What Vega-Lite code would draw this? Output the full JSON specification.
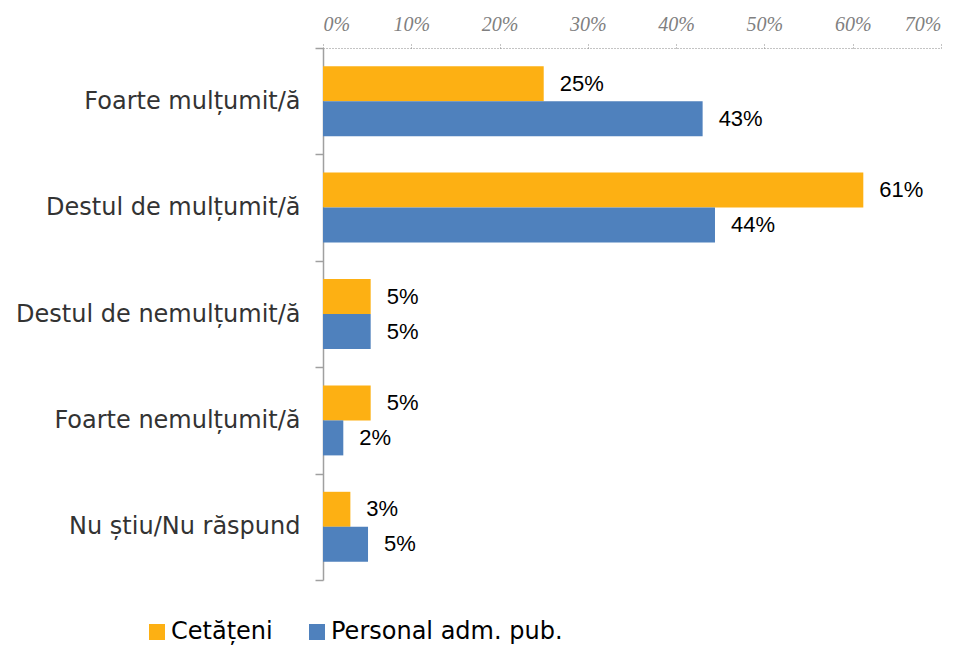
{
  "$schema": "https://vega.github.io/schema/vega-lite/v6.json",
  "width": 618,
  "height": 532,
  "autosize": {"type": "none"},
  "padding": {"left": 323, "top": 48, "right": 26, "bottom": 66},
  "background": "white",
  "config": {"view": {"stroke": null}},
  "data": {
    "values": [
      {"cat": "Foarte mulțumit/ă", "series": "Cetățeni", "value": 0.25},
      {"cat": "Foarte mulțumit/ă", "series": "Personal adm. pub.", "value": 0.43},
      {"cat": "Destul de mulțumit/ă", "series": "Cetățeni", "value": 0.612},
      {"cat": "Destul de mulțumit/ă", "series": "Personal adm. pub.", "value": 0.444},
      {"cat": "Destul de nemulțumit/ă", "series": "Cetățeni", "value": 0.054},
      {"cat": "Destul de nemulțumit/ă", "series": "Personal adm. pub.", "value": 0.054},
      {"cat": "Foarte nemulțumit/ă", "series": "Cetățeni", "value": 0.054},
      {"cat": "Foarte nemulțumit/ă", "series": "Personal adm. pub.", "value": 0.023},
      {"cat": "Nu știu/Nu răspund", "series": "Cetățeni", "value": 0.031},
      {"cat": "Nu știu/Nu răspund", "series": "Personal adm. pub.", "value": 0.051}
    ]
  },
  "encoding": {
    "y": {
      "field": "cat", "type": "nominal", "sort": null, "title": null,
      "scale": {"paddingInner": 0, "paddingOuter": 0},
      "axis": {
        "tickBand": "extent", "domainColor": "#a0a0a0", "domainWidth": 1.5,
        "tickColor": "#a0a0a0", "tickWidth": 1.5, "tickSize": 8, "labelPadding": 15,
        "labelFont": "DejaVu Sans", "labelFontSize": 24, "labelColor": "#333333", "labelLimit": 400
      }
    },
    "yOffset": {
      "field": "series", "type": "nominal", "sort": ["Cetățeni", "Personal adm. pub."],
      "scale": {"paddingInner": 0, "paddingOuter": 0.52}
    },
    "x": {
      "field": "value", "type": "quantitative",
      "scale": {"domain": [0, 0.7], "nice": false},
      "axis": {
        "orient": "top", "format": ".0%", "values": [0, 0.1, 0.2, 0.3, 0.4, 0.5, 0.6, 0.7],
        "title": null, "grid": false,
        "domainDash": [1, 2], "domainColor": "#888888", "tickDash": [1, 2], "tickColor": "#888888", "tickSize": 6,
        "labelFont": "Liberation Serif", "labelFontStyle": "italic", "labelFontSize": 20,
        "labelColor": "#808080", "labelPadding": 8
      }
    }
  },
  "layer": [
    {
      "mark": {"type": "bar"},
      "encoding": {
        "color": {
          "field": "series", "type": "nominal",
          "scale": {"domain": ["Cetățeni", "Personal adm. pub."], "range": ["#FDB013", "#4F81BD"]},
          "legend": {
            "orient": "none", "legendX": -178, "legendY": 572, "direction": "horizontal",
            "title": null, "symbolType": "square", "symbolSize": 256, "symbolStrokeWidth": 0,
            "labelFont": "DejaVu Sans", "labelFontSize": 24, "labelColor": "#000000", "labelLimit": 400,
            "labelOffset": 2, "columnPadding": 32, "padding": 0
          }
        }
      }
    },
    {
      "mark": {"type": "text", "align": "left", "baseline": "middle", "dx": 16,
        "font": "Liberation Sans", "fontSize": 22, "color": "#000000"},
      "encoding": {"text": {"field": "value", "type": "quantitative", "format": ".0%"}}
    }
  ]
}
